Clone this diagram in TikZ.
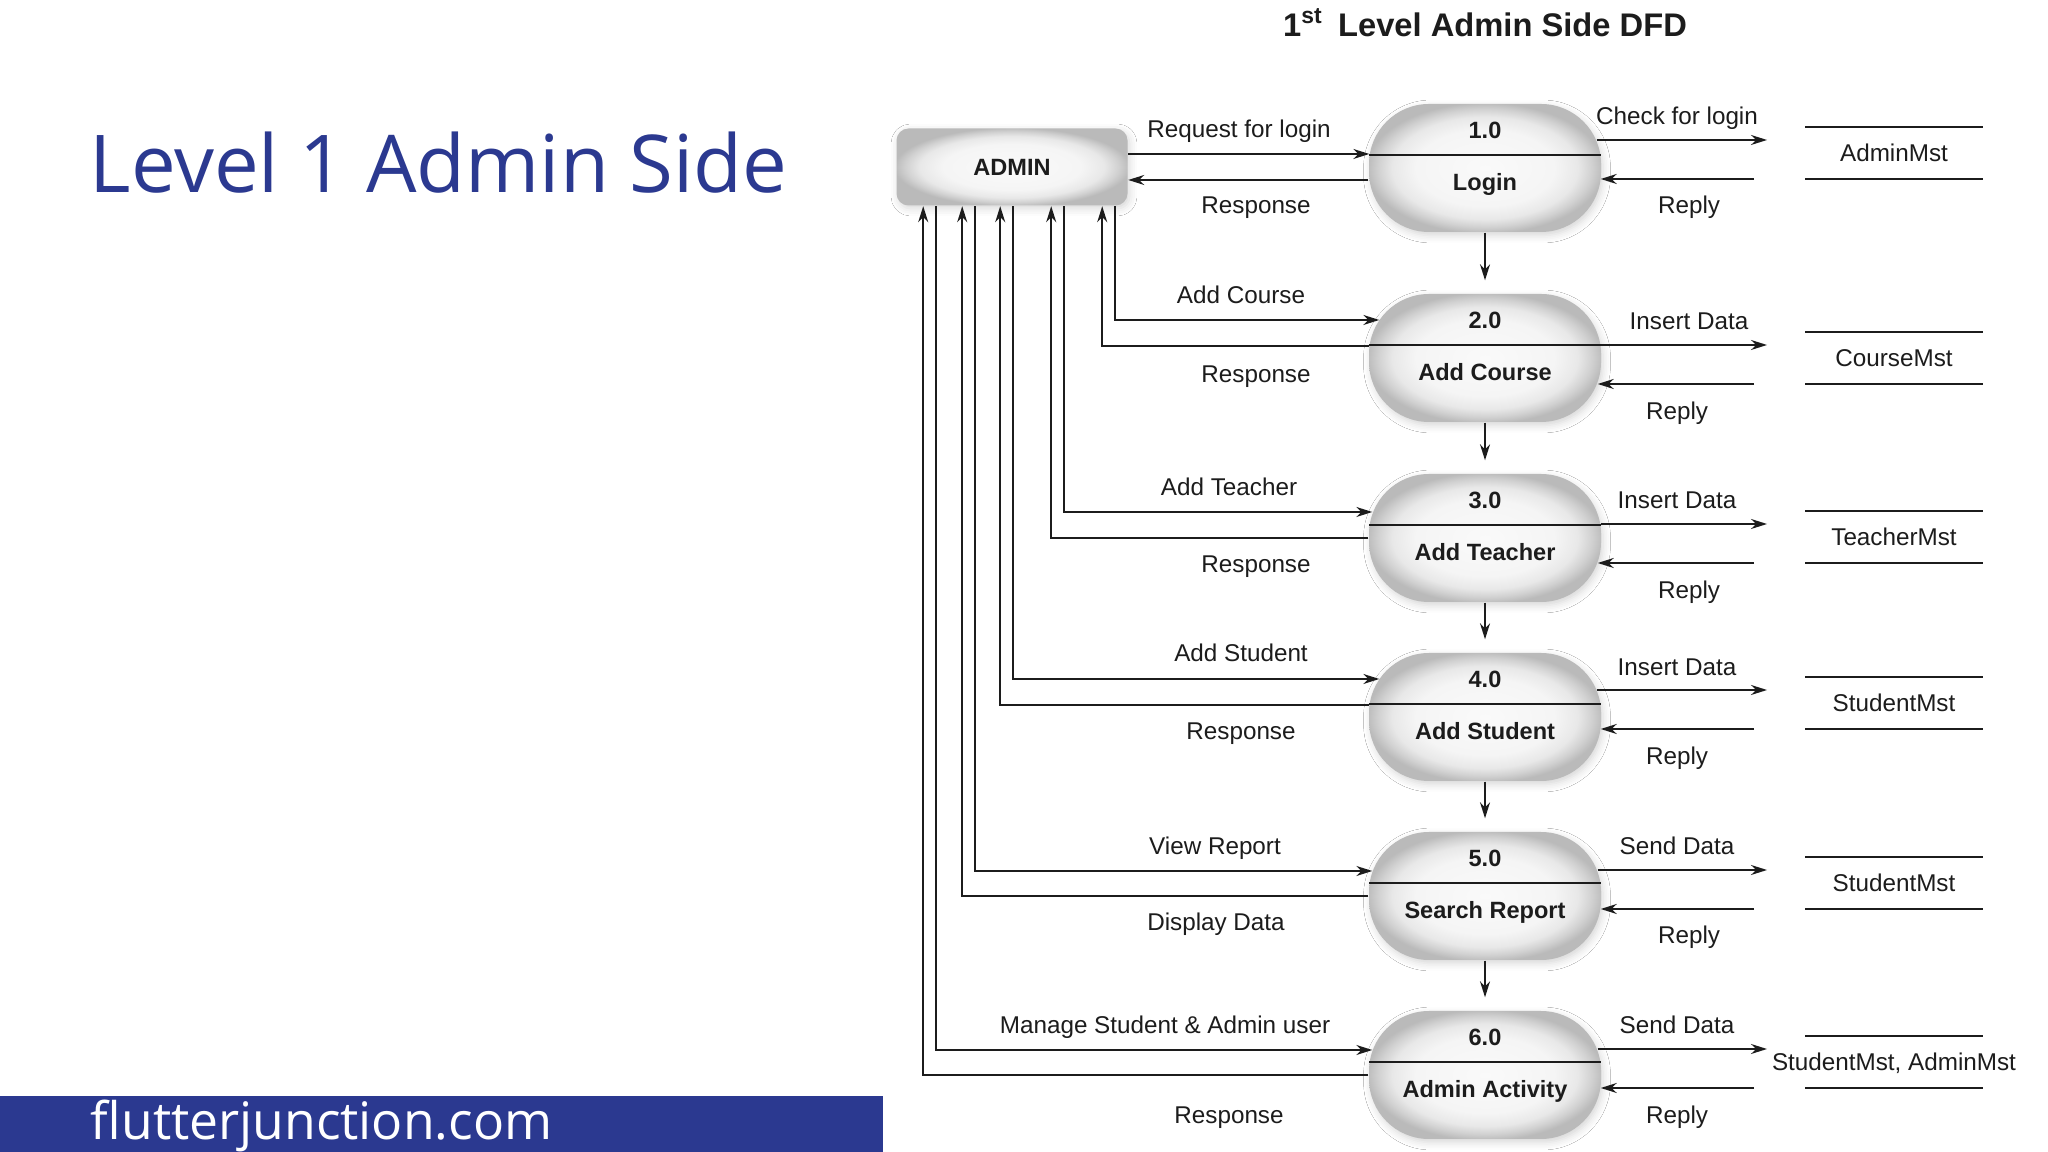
\documentclass[tikz,border=0pt]{standalone}
\usepackage{fontspec}
\setmainfont{Liberation Sans}
\newfontfamily\brandfont{Open Sans}
\usetikzlibrary{arrows.meta,calc,positioning,shadows.blur}
\definecolor{brandblue}{RGB}{43,57,144}
\definecolor{ink}{RGB}{28,28,28}
\colorlet{shadeA}{gray!4}
\colorlet{shadeB}{gray!8}
\colorlet{shadeC}{gray!18}
\colorlet{shadeD}{gray!36}
\colorlet{shadeE}{gray!54}
\pgfdeclareradialshading{procshading}{\pgfpointorigin}{color(0bp)=(shadeA); color(15bp)=(shadeB); color(20bp)=(shadeC); color(23bp)=(shadeD); color(25.5bp)=(shadeE); color(50bp)=(shadeE)}

\begin{document}
\begin{tikzpicture}[x=0.1mm, y=-0.1mm,
  flow/.style={line width=0.55pt, draw=ink, -{Stealth[length=1.6mm,width=1.0mm]}},
  divider/.style={line width=0.55pt, draw=ink},
  storeline/.style={line width=0.55pt, draw=ink},
  process/.style={rectangle, rounded corners=6mm, minimum width=23.2mm, minimum height=12.8mm,
    inner sep=0pt, shade, shading=procshading,
    blur shadow={shadow xshift=0.2mm, shadow yshift=-0.35mm, shadow blur steps=5, shadow opacity=16}},
  entity/.style={rectangle, rounded corners=1.2mm, minimum width=23.1mm, minimum height=7.7mm,
    shade, shading=procshading, text=ink, font=\bfseries\fontsize{6.7}{8}\selectfont,
    blur shadow={shadow xshift=0.2mm, shadow yshift=-0.3mm, shadow blur steps=4, shadow opacity=16}},
  proctext/.style={font=\bfseries\fontsize{6.7}{8}\selectfont, text=ink, inner sep=0pt,
    text height=5.2pt, text depth=0.6pt},
  flowlabel/.style={font=\fontsize{6.9}{8}\selectfont, text=ink, inner sep=0pt,
    text height=5.2pt, text depth=0.6pt},
  store/.style={flowlabel}
]
  \fill[white] (0,0) rectangle (2048,1152);
  \useasboundingbox (0,0) rectangle (2048,1152);

  % slide title and footer
  \node[anchor=base west, inner sep=0pt, text=brandblue,
        font=\brandfont\fontsize{22.7}{27}\selectfont] (slidetitle) at (89,193) {Level 1 Admin Side};
  \fill[brandblue] (0,1096) rectangle (883,1152);
  \node[anchor=base west, inner sep=0pt, text=white,
        font=\brandfont\fontsize{14.7}{17}\selectfont] (footer) at (90,1140) {flutterjunction.com};

  % diagram heading
  \node[anchor=base, inner sep=0pt, text=ink, font=\bfseries\fontsize{9.3}{11}\selectfont]
        (heading) at (1485,37) {1\textsuperscript{st}\hspace{0.45em}Level Admin Side DFD};

  % entity, processes and stores
  \node[entity] (admin) at (1012,167) {ADMIN};
  \foreach \n/\y/\txt in {1/168/Login, 2/358/Add Course, 3/538/Add Teacher,
                          4/717/Add Student, 5/896/Search Report, 6/1075/Admin Activity}{
    \node[process] (p\n) at (1485,\y) {};
    \draw[divider] ($(p\n.west)+(1,-13)$) -- ($(p\n.east)+(-1,-13)$);
    \node[proctext] (num\n) at ($(p\n)+(0,-38)$) {\n.0};
    \node[proctext] (name\n) at ($(p\n)+(0,14)$) {\txt};
  }
  \foreach \n/\y/\s in {1/153/AdminMst, 2/358/CourseMst, 3/537/TeacherMst,
                        4/703/StudentMst, 5/883/StudentMst, 6/1062/{StudentMst, AdminMst}}{
    \node[store] (s\n) at (1894,\y) {\s};
    \draw[storeline] ($(s\n)+(-89,-26)$) -- ($(s\n)+(89,-26)$)
                     ($(s\n)+(-89,26)$) -- ($(s\n)+(89,26)$);
  }

  % process chain
  \foreach \a/\b in {p1/p2, p2/p3, p3/p4, p4/p5, p5/p6}
    \draw[flow, shorten >=1.3mm] (\a.south) -- (\b.north);

  % admin side flows
  \draw[flow] (admin.east |- 0,154) -- ($(p1.west)+(1,-14)$);
  \draw[flow] ($(p1.west)+(0,12)$) -- (admin.east |- 0,180);
  \draw[flow] ($(admin.south east)+(-13,0)$) |- ($(p2.west)+(11,-38)$);
  \draw[flow] ($(p2.west)+(1,-12)$) -| ($(admin.south east)+(-26,0)$);
  \draw[flow] ($(admin.south east)+(-64,0)$) |- ($(p3.west)+(4,-26)$);
  \draw[flow] (p3.west) -| ($(admin.south east)+(-77,0)$);
  \draw[flow] ($(admin.south east)+(-115,0)$) |- ($(p4.west)+(11,-38)$);
  \draw[flow] ($(p4.west)+(1,-12)$) -| ($(admin.south east)+(-128,0)$);
  \draw[flow] ($(admin.south east)+(-153,0)$) |- ($(p5.west)+(4,-25)$);
  \draw[flow] (p5.west) -| ($(admin.south east)+(-166,0)$);
  \draw[flow] ($(admin.south east)+(-192,0)$) |- ($(p6.west)+(4,-25)$);
  \draw[flow] (p6.west) -| ($(admin.south east)+(-205,0)$);

  % store side flows
  \draw[flow] ($(p1.east |- s1)+(-5,-13)$) -- ($(s1)+(-127,-13)$);
  \draw[flow] ($(s1)+(-140,26)$) -- ($(p1.east |- s1)+(-1,26)$);
  \draw[flow] ($(p2.east |- s2)+(-1,-13)$) -- ($(s2)+(-127,-13)$);
  \draw[flow] ($(s2)+(-140,26)$) -- ($(p2.east |- s2)+(-4,26)$);
  \draw[flow] ($(p3.east |- s3)+(-1,-13)$) -- ($(s3)+(-127,-13)$);
  \draw[flow] ($(s3)+(-140,26)$) -- ($(p3.east |- s3)+(-4,26)$);
  \draw[flow] ($(p4.east |- s4)+(-5,-13)$) -- ($(s4)+(-127,-13)$);
  \draw[flow] ($(s4)+(-140,26)$) -- ($(p4.east |- s4)+(-1,26)$);
  \draw[flow] ($(p5.east |- s5)+(-4,-13)$) -- ($(s5)+(-127,-13)$);
  \draw[flow] ($(s5)+(-140,26)$) -- ($(p5.east |- s5)+(-1,26)$);
  \draw[flow] ($(p6.east |- s6)+(-4,-13)$) -- ($(s6)+(-127,-13)$);
  \draw[flow] ($(s6)+(-140,26)$) -- ($(p6.east |- s6)+(-1,26)$);

  % flow labels, admin side
  \node[flowlabel] (req1) at (1239,129) {Request for login};
  \node[flowlabel] (res1) at (1256,205) {Response};
  \node[flowlabel] (req2) at (1241,295) {Add Course};
  \node[flowlabel] (res2) at (1256,374) {Response};
  \node[flowlabel] (req3) at (1229,487) {Add Teacher};
  \node[flowlabel] (res3) at (1256,564) {Response};
  \node[flowlabel] (req4) at (1241,653) {Add Student};
  \node[flowlabel] (res4) at (1241,731) {Response};
  \node[flowlabel] (req5) at (1215,846) {View Report};
  \node[flowlabel] (res5) at (1216,922) {Display Data};
  \node[flowlabel] (req6) at (1165,1025) {Manage Student \& Admin user};
  \node[flowlabel] (res6) at (1229,1115) {Response};

  % flow labels, store side
  \node[flowlabel] (out1) at (1677,116) {Check for login};
  \node[flowlabel] (rep1) at (1689,205) {Reply};
  \node[flowlabel] (out2) at (1689,321) {Insert Data};
  \node[flowlabel] (rep2) at (1677,411) {Reply};
  \node[flowlabel] (out3) at (1677,500) {Insert Data};
  \node[flowlabel] (rep3) at (1689,590) {Reply};
  \node[flowlabel] (out4) at (1677,667) {Insert Data};
  \node[flowlabel] (rep4) at (1677,756) {Reply};
  \node[flowlabel] (out5) at (1677,846) {Send Data};
  \node[flowlabel] (rep5) at (1689,935) {Reply};
  \node[flowlabel] (out6) at (1677,1025) {Send Data};
  \node[flowlabel] (rep6) at (1677,1115) {Reply};
\end{tikzpicture}
\end{document}
